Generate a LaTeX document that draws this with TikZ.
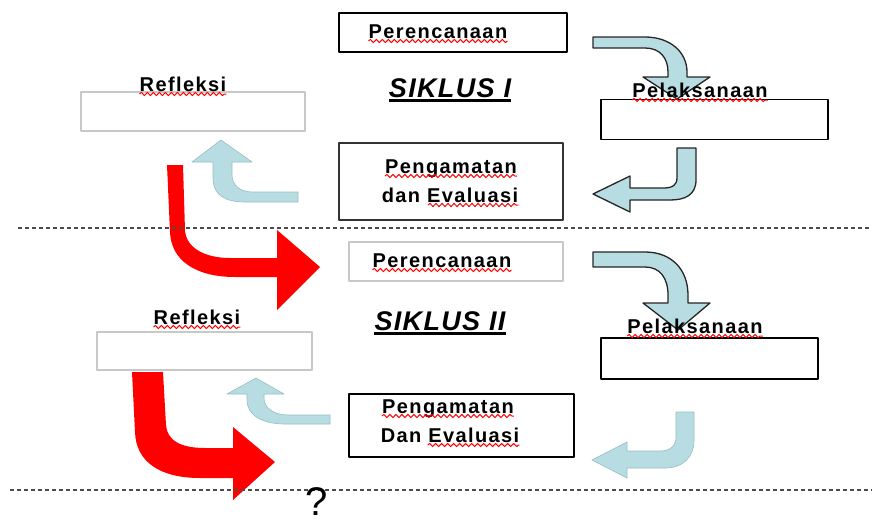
\documentclass[tikz,border=0pt]{standalone}
\usepackage{fontspec}
\setmainfont{Liberation Sans}
\newfontfamily\lblfont{Liberation Sans}[LetterSpace=7]
\newfontfamily\sikfont{Liberation Sans}[LetterSpace=5]
\usetikzlibrary{decorations.pathmorphing,calc}
\definecolor{lblue}{RGB}{183,221,226}
\definecolor{lbline}{RGB}{150,190,196}
\definecolor{boxgray}{RGB}{200,200,200}
\begin{document}
\begin{tikzpicture}[x=1pt,y=-1pt,line join=round,
	box/.style={draw,line width=1.5pt,fill=white,inner sep=0pt},
	graybox/.style={box,draw=boxgray},
	lbl/.style={inner sep=0pt,anchor=base,font=\lblfont\fontsize{20}{23}\selectfont\bfseries},
	siklus/.style={inner sep=0pt,anchor=base,font=\sikfont\fontsize{27}{30}\selectfont\bfseries\itshape},
	wavy/.style={red,line width=1pt,decorate,decoration={snake,amplitude=1.6pt,segment length=6pt}},
	bluearrow/.style={fill=lblue,draw=black!85,line width=1.3pt},
	paleblue/.style={fill=lblue,draw=lbline,line width=0.6pt},
	redarrow/.style={fill=red},
	sep/.style={draw=black!70,line width=1.2pt,dash pattern=on 4pt off 3pt}]
	\useasboundingbox (0,0) rectangle (872,522) ;
	\fill[white] (0,0) rectangle (872,522) ;
	\node[box,minimum width=228pt,minimum height=39pt] (p1) at (453,32.5) {} ;
	\node[graybox,minimum width=224pt,minimum height=39pt] (r1) at (193,111.5) {} ;
	\node[box,minimum width=227pt,minimum height=40pt] (l1) at (714.5,119.5) {} ;
	\node[box,draw=black!80,minimum width=224pt,minimum height=77pt] (e1) at (451,181.5) {} ;
	\node[graybox,minimum width=214pt,minimum height=39pt] (p2) at (456,261.5) {} ;
	\node[graybox,minimum width=215pt,minimum height=38pt] (r2) at (204.5,351) {} ;
	\node[box,minimum width=217pt,minimum height=41pt] (l2) at (709.5,358.5) {} ;
	\node[box,minimum width=225pt,minimum height=63pt] (e2) at (461.5,425.5) {} ;
	\filldraw[bluearrow] (593,37) -- (645,37) .. controls (670,37) and (687,52) .. (687,72) -- (687,77) -- (710,77) -- (677,99) -- (643,77) -- (668,77) -- (668,72) .. controls (668,58) and (660,48) .. (645,48) -- (593,48) -- cycle ;
	\filldraw[bluearrow] (677,148) -- (696,148) -- (696,180) .. controls (696,195) and (685,200) .. (670,200) -- (630,200) -- (630,212) -- (593,194) -- (630,176) -- (630,188) -- (665,188) .. controls (672,188) and (677,185) .. (677,178) -- cycle ;
	\filldraw[paleblue] (298,192) -- (252,192) .. controls (240,192) and (232,185) .. (232,175) -- (232,162) -- (252,162) -- (221,140) -- (192,162) -- (213,162) -- (213,178) .. controls (213,195) and (225,202) .. (245,202) -- (298,202) -- cycle ;
	\fill[redarrow] (167,165) -- (183,165) -- (185,230) .. controls (186,248) and (205,258) .. (230,258) -- (277,258) -- (277,230) -- (320,267) -- (277,310) -- (277,277) -- (235,277) .. controls (195,277) and (171,260) .. (170,232) -- cycle ;
	\filldraw[bluearrow] (593,252) -- (645,252) .. controls (672,252) and (688,270) .. (688,295) -- (688,303) -- (710,303) -- (678,330) -- (643,303) -- (668,303) -- (668,295) .. controls (668,278) and (660,267) .. (645,267) -- (593,267) -- cycle ;
	\filldraw[paleblue] (676,412) -- (694,412) -- (694,440) .. controls (694,458) and (682,468) .. (665,468) -- (627,468) -- (627,478) -- (592,460) -- (627,442) -- (627,451) -- (660,451) .. controls (670,451) and (676,446) .. (676,437) -- cycle ;
	\filldraw[paleblue] (330,415) -- (288,415) .. controls (274,415) and (264,408) .. (264,398) -- (264,394) -- (284,394) -- (256,378) -- (227,394) -- (247,394) -- (247,400) .. controls (247,415) and (262,424) .. (285,424) -- (330,424) -- cycle ;
	\fill[redarrow] (132,372) -- (163,372) -- (166,425) .. controls (167,440) and (180,448) .. (205,448) -- (233,448) -- (233,427) -- (275,462) -- (233,500) -- (233,478) -- (200,478) .. controls (160,478) and (136,462) .. (135,432) -- cycle ;
	\coordinate (d1a) at (18,228) ; \coordinate (d1b) at (872,228) ;
	\coordinate (d2a) at (10,490) ; \coordinate (d2b) at (872,490) ;
	\draw[sep] (d1a) -- (d1b) ;
	\draw[sep] (d2a) -- (d2b) ;
	\node[lbl] (tp1) at (438,38) {Perencanaan} ;
	\node[lbl] (tr1) at (183,91) {Refleksi} ;
	\node[lbl] (tl1) at (700,97) {Pelaksanaan} ;
	\node[lbl] (te1a) at (451,173) {Pengamatan} ;
	\node[lbl] (te1b) at (450,202) {dan Evaluasi} ;
	\node[siklus] (s1) at (450,97) {SIKLUS I} ;
	\node[lbl] (tp2) at (442,267) {Perencanaan} ;
	\node[lbl] (tr2) at (197,324) {Refleksi} ;
	\node[lbl] (tl2) at (695,333) {Pelaksanaan} ;
	\node[lbl] (te2a) at (448,413) {Pengamatan} ;
	\node[lbl] (te2b) at (450,442) {Dan Evaluasi} ;
	\node[siklus] (s2) at (440,330) {SIKLUS II} ;
	\node[inner sep=0pt,anchor=base,font=\fontsize{40}{44}\selectfont] (q) at (317,515) {?} ;
	\foreach \t in {s1,s2} \draw[line width=2.5pt] ([yshift=-3.5pt]\t.base west) -- ([yshift=-3.5pt]\t.base east) ;
	\foreach \t in {tp1,tr1,tl1,te1a,tp2,tr2,tl2,te2a} \draw[wavy] ([yshift=-3pt]\t.base west) -- ([yshift=-3pt]\t.base east) ;
	\foreach \t in {te1b,te2b} \draw[wavy] ([yshift=-3pt]$(\t.base west)!0.34!(\t.base east)$) -- ([yshift=-3pt]\t.base east) ;
\end{tikzpicture}
\end{document}
